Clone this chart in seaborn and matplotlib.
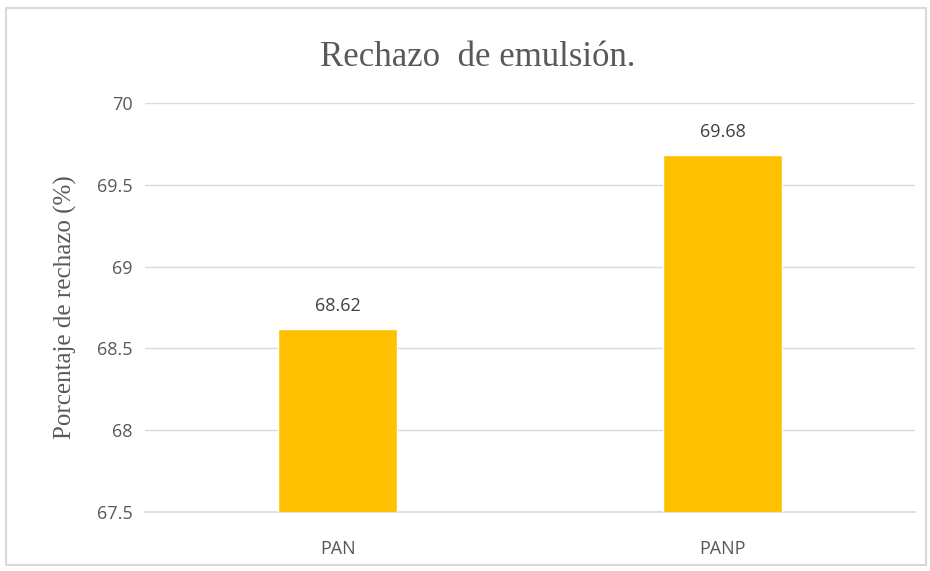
import matplotlib
matplotlib.use("Agg")
import matplotlib.pyplot as plt
import seaborn as sns
import pandas as pd
from matplotlib.patches import Rectangle

# Datos
categorias = ["PAN", "PANP"]
rechazo = [68.62, 69.68]
yticks = [67.5, 68, 68.5, 69, 69.5, 70]

df = pd.DataFrame({"Membrana": categorias, "Rechazo": rechazo})

sns.set_style("white")
plt.rcParams['font.family'] = ['Open Sans', 'DejaVu Sans']

fig = plt.figure(figsize=(9.3, 5.71), dpi=100)
ax = fig.add_axes([0.156, 0.1033, 0.828, 0.7163])

sns.barplot(data=df, x="Membrana", y="Rechazo", color="#FFC000", width=0.31,
            saturation=1, ax=ax, zorder=3)

ax.set_ylim(67.5, 70)
ax.set_yticks(yticks)
ax.set_yticklabels([f"{t:g}" for t in yticks])
ax.grid(axis="y", color="#d9d9d9", linewidth=1, zorder=0)
ax.set_axisbelow(True)
for s in ["top", "right", "left"]:
    ax.spines[s].set_visible(False)
ax.spines["bottom"].set_color("#d9d9d9")
ax.spines["bottom"].set_linewidth(1.2)
ax.tick_params(axis="both", length=0, labelsize=13, colors="#595959", pad=9)
ax.tick_params(axis="x", pad=20)
ax.set_xlabel("")
ax.set_ylabel("Porcentaje de rechazo (%)", family="Liberation Serif",
              fontsize=18, color="#595959", labelpad=14)

for p, v in zip(ax.patches, rechazo):
    ax.annotate(f"{v:.2f}", (p.get_x() + p.get_width() / 2, v),
                xytext=(0, 10), textcoords="offset points",
                ha="center", va="bottom", fontsize=13, color="#404040")

fig.text(0.514, 0.9, "Rechazo  de emulsión.", family="Liberation Serif",
         fontsize=25, color="#595959", ha="center", va="center")

fig.patches.append(Rectangle((0.006, 0.01), 0.99, 0.976, transform=fig.transFigure,
                             fill=False, edgecolor="#d9d9d9", linewidth=1.5))

fig.savefig("out.png", dpi=100)
